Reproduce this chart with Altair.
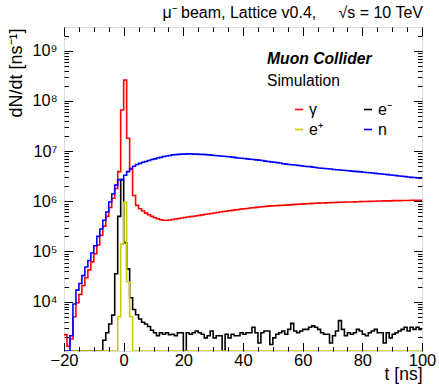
import altair as alt
import pandas as pd

# ---------------- data (bin left edges, 1 ns bins) ----------------
t_edges = list(range(-20, 100))
t_end = 100

gamma = [
    2.2e3, 1.3e3, 1.8e3, 5.0e3, 9.5e3, 1.4e4, 2.1e4, 3.0e4, 4.3e4, 6.2e4,
    9.0e4, 1.35e5, 2.1e5, 3.2e5, 5.0e5, 7.5e5, 1.15e6, 1.8e6, 3.9e6, 6.6e7,
    2.6e8, 1.8e7, 4.3e6, 1.3e6, 8.3e5, 7.1e5, 6.4e5, 5.8e5, 5.4e5, 5.0e5,
    4.7e5, 4.5e5, 4.3e5, 4.2e5, 4.2e5, 4.25e5, 4.35e5, 4.45e5, 4.55e5, 4.65e5,
    4.75e5, 4.85e5, 4.95e5, 5.05e5, 5.15e5, 5.25e5, 5.35e5, 5.5e5, 5.6e5, 5.7e5,
    5.85e5, 6.0e5, 6.1e5, 6.25e5, 6.35e5, 6.5e5, 6.6e5, 6.75e5, 6.85e5, 7.0e5,
    7.1e5, 7.2e5, 7.35e5, 7.45e5, 7.55e5, 7.7e5, 7.8e5, 7.9e5, 8.0e5, 8.1e5,
    8.15e5, 8.2e5, 8.3e5, 8.35e5, 8.4e5, 8.5e5, 8.6e5, 8.7e5, 8.75e5, 8.8e5,
    8.9e5, 8.95e5, 9.0e5, 9.1e5, 9.15e5, 9.2e5, 9.25e5, 9.3e5, 9.35e5, 9.4e5,
    9.45e5, 9.5e5, 9.55e5, 9.6e5, 9.65e5, 9.7e5, 9.7e5, 9.75e5, 9.8e5, 9.85e5,
    9.9e5, 9.9e5, 9.95e5, 1.0e6, 1.0e6, 1.01e6, 1.01e6, 1.02e6, 1.02e6, 1.02e6,
    1.03e6, 1.03e6, 1.03e6, 1.04e6, 1.04e6, 1.04e6, 1.05e6, 1.05e6, 1.05e6, 1.05e6,
]

neutron = [
    0, 0, 2.1e3, 9.0e3, 1.7e4, 2.3e4, 3.3e4, 4.9e4, 6.6e4, 9.3e4,
    1.3e5, 2.0e5, 2.8e5, 4.2e5, 6.1e5, 9.7e5, 1.4e6, 2.1e6, 2.7e6, 2.7e6,
    3.3e6, 3.9e6, 4.5e6, 5.0e6, 5.4e6, 5.7e6, 6.0e6, 6.2e6, 6.5e6, 6.8e6,
    7.0e6, 7.3e6, 7.5e6, 7.8e6, 8.0e6, 8.2e6, 8.4e6, 8.5e6, 8.6e6, 8.7e6,
    8.7e6, 8.8e6, 8.8e6, 8.7e6, 8.7e6, 8.6e6, 8.6e6, 8.5e6, 8.4e6, 8.3e6,
    8.2e6, 8.1e6, 8.0e6, 7.9e6, 7.8e6, 7.7e6, 7.6e6, 7.4e6, 7.3e6, 7.2e6,
    7.1e6, 7.0e6, 6.9e6, 6.8e6, 6.7e6, 6.6e6, 6.5e6, 6.3e6, 6.2e6, 6.1e6,
    6.0e6, 5.9e6, 5.8e6, 5.6e6, 5.5e6, 5.4e6, 5.35e6, 5.3e6, 5.2e6, 5.1e6,
    5.0e6, 4.95e6, 4.9e6, 4.8e6, 4.7e6, 4.6e6, 4.55e6, 4.5e6, 4.45e6, 4.4e6,
    4.3e6, 4.25e6, 4.2e6, 4.15e6, 4.1e6, 4.05e6, 4.0e6, 3.95e6, 3.9e6, 3.85e6,
    3.8e6, 3.75e6, 3.7e6, 3.65e6, 3.6e6, 3.55e6, 3.5e6, 3.45e6, 3.4e6, 3.35e6,
    3.3e6, 3.25e6, 3.2e6, 3.15e6, 3.1e6, 3.05e6, 3.0e6, 2.97e6, 2.93e6, 2.9e6,
]

eminus = [
    0, 0, 0, 0, 0, 0, 0, 0, 0, 0,
    0, 0, 0, 1.7e3, 2.4e3, 3.6e3, 5.4e3, 3.6e4, 5.0e5, 2.7e6,
    1.5e5, 4.5e4, 1.2e4, 7.0e3, 5.5e3, 4.5e3, 3.9e3, 3.6e3, 3.2e3, 2.7e3,
    2.4e3, 2.1e3, 2.4e3, 2.25e3, 2.4e3, 2.2e3, 2.25e3, 2.1e3, 2.4e3, 2.4e3,
    0, 2.4e3, 2.25e3, 2.4e3, 2.6e3, 2.4e3, 2.25e3, 1.9e3, 2.1e3, 2.6e3,
    1.9e3, 2.1e3, 2.1e3, 0, 2.25e3, 1.9e3, 2.25e3, 2.1e3, 2.1e3, 2.4e3,
    2.25e3, 2.4e3, 2.4e3, 3.1e3, 2.4e3, 1.5e3, 2.4e3, 2.6e3, 2.6e3, 1.4e3,
    1.9e3, 2.25e3, 2.4e3, 2.6e3, 2.25e3, 2.8e3, 3.7e3, 2.6e3, 2.4e3, 2.6e3,
    2.8e3, 2.8e3, 3.1e3, 3.3e3, 3.1e3, 2.8e3, 2.4e3, 2.25e3, 2.25e3, 1.5e3,
    2.1e3, 2.6e3, 4.2e3, 2.8e3, 2.1e3, 2.4e3, 2.25e3, 2.4e3, 2.8e3, 2.6e3,
    2.25e3, 2.1e3, 2.4e3, 2.6e3, 2.8e3, 2.4e3, 2.4e3, 1.5e3, 2.4e3, 1.9e3,
    2.25e3, 2.4e3, 2.6e3, 2.8e3, 3.1e3, 2.6e3, 3.1e3, 2.8e3, 3.1e3, 2.8e3,
]

eplus = [0] * 18 + [5.0e3, 1.4e5, 9.5e5, 2.5e4, 5.0e3] + [0] * 97

# legend fills column by column: (γ, e⁺) in column 1, (e⁻, n) in column 2
series_names = ["γ", "e⁺", "e⁻", "n"]
series_values = [gamma, eplus, eminus, neutron]
series_colors = ["#ff0000", "#cccc00", "#000000", "#0000ff"]
draw_order = ["γ", "e⁻", "e⁺", "n"]

x_major = [-20, 0, 20, 40, 60, 80, 100]
x_minor = [v for v in range(-20, 101, 5) if v % 20 != 0]
y_major = [1e4, 1e5, 1e6, 1e7, 1e8, 1e9]

Y_MIN, Y_MAX = 1040.0, 2.97e9
X_MIN, X_MAX = -20, 100
y_minor = [k * 10.0 ** e for e in range(3, 10) for k in range(2, 10)
           if Y_MIN < k * 10.0 ** e < Y_MAX]

W, H = 358, 324
FONT = "Liberation Sans"
NB = "\u00a0"

lookup = dict(zip(series_names, series_values))
rows = []
for name in draw_order:
    vals = lookup[name]
    for t, v in zip(t_edges, vals):
        rows.append({"t": t, "v": max(v, Y_MIN), "series": name})
    rows.append({"t": t_end, "v": max(vals[-1], Y_MIN), "series": name})
df = pd.DataFrame(rows)

xs = alt.Scale(domain=[X_MIN, X_MAX], nice=False, zero=False)
ys = alt.Scale(type="log", domain=[Y_MIN, Y_MAX], nice=False)

sup = "['⁰','¹','²','³','⁴','⁵','⁶','⁷','⁸','⁹']"

ax_x = alt.Axis(orient="bottom", values=x_major, ticks=False, tickSize=0, domain=False,
                grid=False, labelFont=FONT, labelFontSize=16.5, labelColor="black",
                labelPadding=1, labelFlush=False, labelOverlap=False, labelBound=False,
                title="t [ns]", titleFont=FONT, titleFontSize=17.5, titleFontWeight="normal",
                titleColor="black", titleAlign="right", titleBaseline="alphabetic",
                titleX=W, titleY=28)
ax_y = alt.Axis(orient="left", values=y_major, ticks=False, tickSize=0, domain=False,
                grid=False, labelFont=FONT, labelFontSize=16.3, labelColor="black",
                labelPadding=7, labelOverlap=False,
                labelExpr="'10' + " + sup + "[round(log(datum.value)/LN10)]",
                title="dN/dt [ns⁻¹]", titleFont=FONT, titleFontSize=18,
                titleFontWeight="normal", titleColor="black", titleAngle=270,
                titleAlign="right", titleBaseline="alphabetic", titleX=-43, titleY=1)

lines = alt.Chart(df).mark_line(interpolate="step-after", strokeWidth=1.6, clip=True).encode(
    x=alt.X("t:Q", scale=xs, axis=ax_x),
    y=alt.Y("v:Q", scale=ys, axis=ax_y),
    color=alt.Color("series:N",
                    scale=alt.Scale(domain=series_names, range=series_colors),
                    legend=alt.Legend(orient="none", legendX=227, legendY=74.5, columns=2,
                                      symbolType="stroke", symbolSize=64,
                                      symbolStrokeWidth=1.6, labelFont=FONT,
                                      labelFontSize=16, labelColor="black", labelOffset=2,
                                      columnPadding=37, rowPadding=4, padding=0,
                                      title=None)),
)


def tick_layer(x_orient, x_vals, x_size, y_orient, y_vals, y_size, x_off, y_off):
    return alt.Chart(df).mark_point(opacity=0, size=1).encode(
        x=alt.X("t:Q", scale=xs,
                axis=alt.Axis(orient=x_orient, offset=x_off, values=x_vals, tickSize=x_size,
                              tickColor="black", tickWidth=1, labels=False, domain=False,
                              grid=False, title="", zindex=2)),
        y=alt.Y("v:Q", scale=ys,
                axis=alt.Axis(orient=y_orient, offset=y_off, values=y_vals, tickSize=y_size,
                              tickColor="black", tickWidth=1, labels=False, domain=False,
                              grid=False, title="", zindex=2)),
    )


t1 = tick_layer("top", x_major, 8.5, "right", y_major, 8.5, -H, -W)     # bottom & left, inward
t2 = tick_layer("top", x_minor, 4.5, "right", y_minor, 4.5, -H, -W)
t3 = tick_layer("bottom", x_major, 8.5, "left", y_major, 8.5, -H, -W)   # top & right, inward
t4 = tick_layer("bottom", x_minor, 4.5, "left", y_minor, 4.5, -H, -W)

title_text = "μ⁻ beam, Lattice v0.4," + NB * 5 + "√s = 10 TeV"
txt_title = alt.Chart(pd.DataFrame({"s": [title_text]})).mark_text(
    font=FONT, fontSize=16, align="right", baseline="alphabetic", color="black").encode(
    x=alt.value(W + 1), y=alt.value(-9), text="s:N")
txt1 = alt.Chart(pd.DataFrame({"s": ["Muon Collider"]})).mark_text(
    font=FONT, fontSize=15.7, fontStyle="italic", fontWeight="bold", align="left",
    baseline="alphabetic", color="black").encode(
    x=alt.value(203), y=alt.value(37), text="s:N")
txt2 = alt.Chart(pd.DataFrame({"s": ["Simulation"]})).mark_text(
    font=FONT, fontSize=15.6, align="left", baseline="alphabetic", color="black").encode(
    x=alt.value(203), y=alt.value(59), text="s:N")

chart = alt.layer(lines, t1, t2, t3, t4, txt_title, txt1, txt2).resolve_axis(
    x="independent", y="independent"
).properties(
    width=W, height=H,
    autosize=alt.AutoSizeParams(type="none"),
    padding={"left": 64, "top": 27, "right": 17, "bottom": 40},
).configure_view(stroke="black", strokeWidth=1).configure(background="white")

chart.save("out.html", embed_options={"renderer": "svg", "actions": False})
